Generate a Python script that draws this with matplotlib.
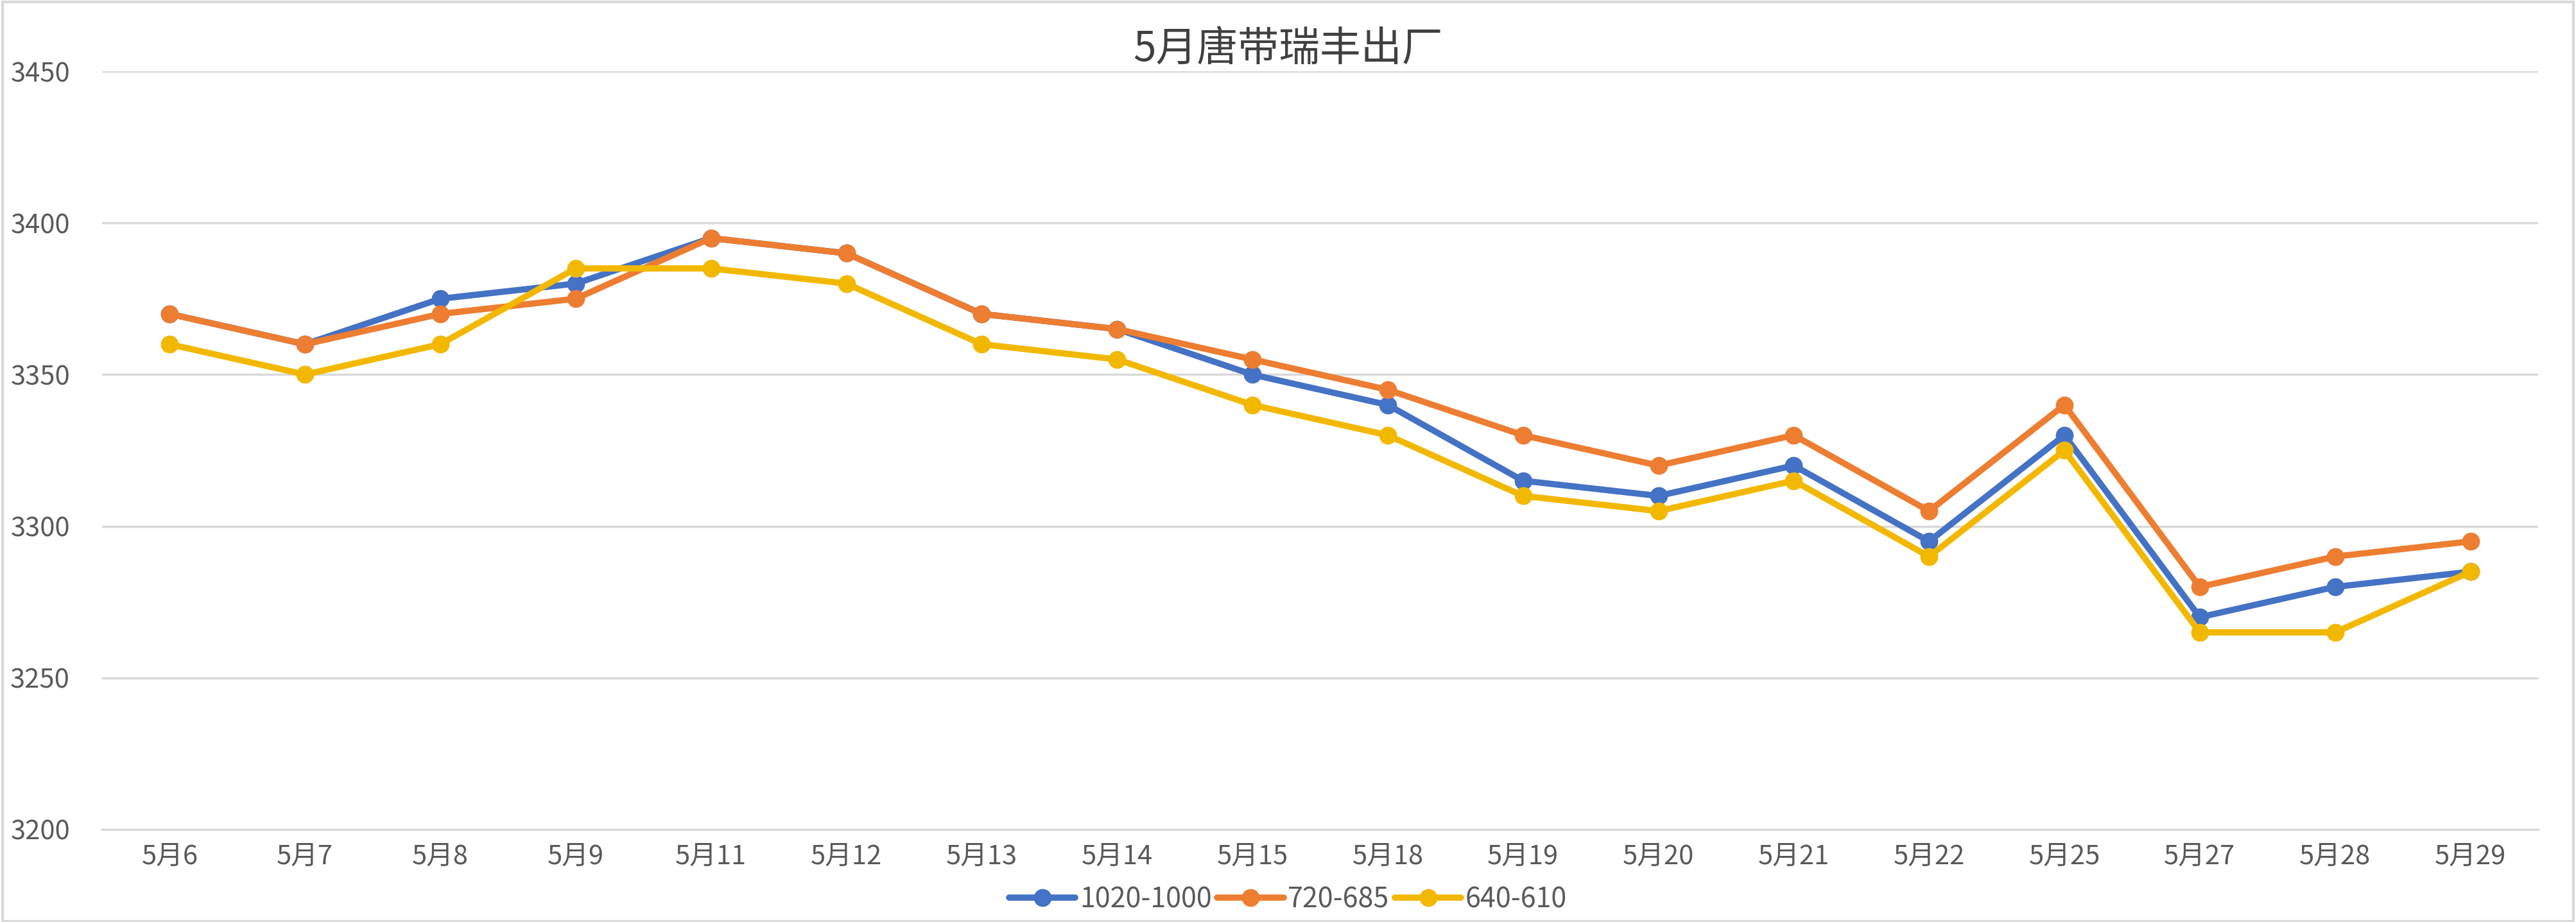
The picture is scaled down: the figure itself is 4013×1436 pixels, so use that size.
import matplotlib.pyplot as plt
from matplotlib.patches import Rectangle

plt.rcParams['font.family'] = ['Noto Sans CJK SC', 'DejaVu Sans']

# dates and outbound prices
dates = ['5月6', '5月7', '5月8', '5月9', '5月11', '5月12', '5月13', '5月14', '5月15',
         '5月18', '5月19', '5月20', '5月21', '5月22', '5月25', '5月27', '5月28', '5月29']
s1020 = [3370, 3360, 3375, 3380, 3395, 3390, 3370, 3365, 3350,
         3340, 3315, 3310, 3320, 3295, 3330, 3270, 3280, 3285]
s720 = [3370, 3360, 3370, 3375, 3395, 3390, 3370, 3365, 3355,
        3345, 3330, 3320, 3330, 3305, 3340, 3280, 3290, 3295]
s640 = [3360, 3350, 3360, 3385, 3385, 3380, 3360, 3355, 3340,
        3330, 3310, 3305, 3315, 3290, 3325, 3265, 3265, 3285]
names = ['1020-1000', '720-685', '640-610']
colors = ['#4472C4', '#ED7D31', '#F2B800']

fig = plt.figure(figsize=(40.13, 14.36), dpi=100)
ax = fig.add_axes([0.0396, 0.1003, 0.9457, 0.8224])

x = range(len(dates))
for vals, name, c in zip([s1020, s720, s640], names, colors):
    ax.plot(x, vals, color=c, lw=7, marker='o', markersize=19, label=name,
            solid_capstyle='round')

ax.set_xlim(-0.5, len(dates) - 0.5)
ax.set_ylim(3200, 3450)
ax.set_yticks(range(3200, 3451, 50))
ax.set_xticks(list(x))
ax.set_xticklabels(dates)
ax.grid(axis='y', color='#D9D9D9', lw=2.5)
ax.set_axisbelow(True)
for side in ['top', 'right', 'left']:
    ax.spines[side].set_visible(False)
ax.spines['bottom'].set_color('#D9D9D9')
ax.spines['bottom'].set_linewidth(2.5)
ax.tick_params(length=0, labelsize=30, colors='#595959', pad=16)
ax.tick_params(axis='y', pad=36)

fig.text(0.5, 0.946, '5月唐带瑞丰出厂', ha='center', va='center', fontsize=46, color='#404040')

fig.legend(loc='center', bbox_to_anchor=(0.5, 0.024), ncol=3, frameon=False,
           fontsize=31, labelcolor='#595959', handlelength=2.4, handletextpad=0.15,
           columnspacing=0.2, borderaxespad=0)

fig.patches.append(Rectangle((0.001, 0.001), 0.998, 0.997, transform=fig.transFigure,
                             fill=False, edgecolor='#D9D9D9', lw=3))

fig.savefig('out.png', dpi=100)
